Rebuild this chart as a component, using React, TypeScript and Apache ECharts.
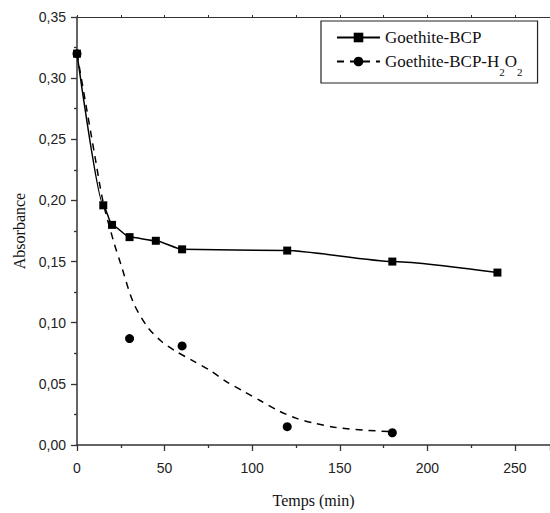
import React, { useEffect, useRef } from "react";
import * as echarts from "echarts";

const bcpTime = [0, 15, 20, 30, 45, 60, 120, 180, 240];
const bcpAbs = [0.32, 0.196, 0.18, 0.17, 0.167, 0.16, 0.159, 0.15, 0.141];

const h2o2Time = [0, 30, 60, 120, 180];
const h2o2Abs = [0.32, 0.087, 0.081, 0.015, 0.01];

const fitTime = [0, 5, 10, 15, 21, 25, 32, 40, 48, 56, 66, 76, 85, 95, 105, 115, 125, 135, 147, 165, 180];
const fitAbs = [0.32, 0.279, 0.238, 0.198, 0.166, 0.148, 0.117, 0.097, 0.085, 0.077, 0.069, 0.061, 0.052, 0.044, 0.036, 0.028, 0.022, 0.018, 0.0145, 0.012, 0.011];

const xTicks = [0, 50, 100, 150, 200, 250];
const yTicks = [0, 0.05, 0.1, 0.15, 0.2, 0.25, 0.3, 0.35];

const NAME1 = "Goethite-BCP";
const NAME2 = "Goethite-BCP-H2O2";

export default function App() {
  const ref = useRef<HTMLDivElement>(null);
  useEffect(() => {
    if (!ref.current) return;
    const chart = echarts.init(ref.current, null, { renderer: "svg" });
    const axisColor = "#333";
    const sans = "'Liberation Sans', Arial, sans-serif";
    const serif = "'Liberation Serif', 'Times New Roman', serif";
    chart.setOption({
      animation: false,
      backgroundColor: "#fff",
      grid: { left: 77, right: 0, top: 17, bottom: 62, containLabel: false },
      legend: {
        data: [NAME1, NAME2],
        orient: "vertical",
        left: 321,
        top: 21,
        padding: [8, 15, 6, 15],
        itemGap: 7,
        itemWidth: 43,
        itemHeight: 12,
        borderColor: "#222",
        borderWidth: 1.2,
        backgroundColor: "#fff",
        selectedMode: false,
        formatter: (name: string) =>
          name === NAME2 ? "Goethite-BCP-H{s|2}O{s|2}" : name,
        textStyle: {
          fontFamily: serif,
          fontSize: 17,
          color: "#111",
          rich: {
            s: { fontFamily: serif, fontSize: 11, color: "#111", padding: [20, 0, 0, 0] },
          },
        },
      },
      xAxis: [
        {
          type: "value",
          position: "bottom",
          min: xTicks[0],
          max: 270,
          interval: xTicks[1] - xTicks[0],
          name: "Temps (min)",
          nameLocation: "middle",
          nameGap: 47,
          nameTextStyle: { fontFamily: serif, fontSize: 16, color: "#111" },
          axisLine: { show: true, onZero: false, lineStyle: { color: axisColor, width: 1.5 } },
          axisTick: { show: true, inside: false, length: 6, lineStyle: { color: axisColor, width: 1.3 } },
          minorTick: { show: true, splitNumber: 2, length: 3, lineStyle: { color: axisColor, width: 1.3 } },
          axisLabel: {
            fontFamily: sans,
            fontSize: 14,
            color: "#222",
            margin: 16,
            showMaxLabel: false,
          },
          splitLine: { show: false },
        },
        {
          type: "value",
          position: "top",
          min: 0,
          max: 270,
          interval: 25,
          axisLine: { show: true, onZero: false, lineStyle: { color: axisColor, width: 1.2 } },
          axisTick: { show: true, inside: false, length: 2, lineStyle: { color: axisColor, width: 1 } },
          axisLabel: { show: false },
          splitLine: { show: false },
        },
      ],
      yAxis: {
        type: "value",
        min: yTicks[0],
        max: yTicks[yTicks.length - 1],
        interval: yTicks[1] - yTicks[0],
        name: "Absorbance",
        nameLocation: "middle",
        nameRotate: 90,
        nameGap: 49,
        nameTextStyle: { fontFamily: serif, fontSize: 16, color: "#111" },
        axisLine: { show: true, onZero: false, lineStyle: { color: axisColor, width: 1.5 } },
        axisTick: { show: true, inside: false, length: 6, lineStyle: { color: axisColor, width: 1.3 } },
        minorTick: { show: true, splitNumber: 2, length: 3, lineStyle: { color: axisColor, width: 1.3 } },
        axisLabel: {
          fontFamily: sans,
          fontSize: 14,
          color: "#222",
          margin: 11,
          formatter: (v: number) => v.toFixed(2).replace(".", ","),
        },
        splitLine: { show: false },
      },
      series: [
        {
          name: NAME1,
          type: "line",
          xAxisIndex: 0,
          data: bcpTime.map((t, i) => [t, bcpAbs[i]]),
          symbol: "rect",
          symbolSize: 8,
          smooth: 0.2,
          smoothMonotone: "x",
          color: "#000",
          itemStyle: { color: "#000", opacity: 1 },
          lineStyle: { color: "#000", width: 1.5 },
          z: 3,
        },
        {
          name: NAME2,
          type: "line",
          xAxisIndex: 0,
          data: fitTime.map((t, i) => [t, fitAbs[i]]),
          symbol: "circle",
          symbolSize: 9,
          showSymbol: false,
          smooth: 0.3,
          color: "#000",
          itemStyle: { color: "#000", opacity: 1 },
          lineStyle: { color: "#000", width: 1.5, type: [7, 6] },
          z: 2,
        },
        {
          name: "points",
          type: "scatter",
          xAxisIndex: 0,
          data: h2o2Time.map((t, i) => [t, h2o2Abs[i]]),
          symbol: "circle",
          symbolSize: 9,
          itemStyle: { color: "#000", opacity: 1 },
          z: 2,
        },
      ],
    });
    return () => chart.dispose();
  }, []);
  return <div ref={ref} style={{ width: 550, height: 513, position: "absolute", left: 0, top: 0 }} />;
}
